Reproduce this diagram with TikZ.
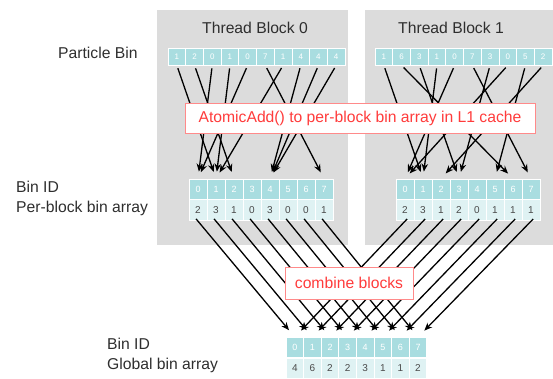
\documentclass[tikz,border=0pt]{standalone}
\usepackage{fontspec}
\setmainfont{Liberation Sans}
\usetikzlibrary{arrows.meta, positioning}
\definecolor{BlockGray}{HTML}{DCDCDC}
\definecolor{BinTeal}{HTML}{A9DDE0}
\definecolor{BinPale}{HTML}{DFF2F3}
\definecolor{Ink}{HTML}{2E2E2E}
\definecolor{Black70}{HTML}{4A4A4A}
\definecolor{AlertRed}{HTML}{FF3B3B}
\definecolor{AlertPink}{HTML}{FF8A8A}
\tikzset{
  partcell/.style={rectangle, draw=white, fill=BinTeal, line width=0.8pt,
                   minimum width=17.7pt, minimum height=17pt, inner sep=0pt,
                   text=white, font=\fontsize{8}{8}\selectfont},
  idcell/.style={rectangle, draw=white, fill=BinTeal, line width=0.8pt,
                 minimum width=#1, minimum height=20pt, inner sep=0pt,
                 text=white, font=\fontsize{9}{9}\selectfont},
  countcell/.style={rectangle, draw=white, fill=BinPale, line width=0.8pt,
                    minimum width=#1, minimum height=21pt, inner sep=0pt,
                    text=Black70, font=\fontsize{10}{10}\selectfont},
  callout/.style={rectangle, draw=AlertPink, fill=white, line width=0.9pt,
                  inner sep=0pt, text=AlertRed, font=\fontsize{15.7}{16}\selectfont},
}

\begin{document}
\begin{tikzpicture}[x=1pt, y=-1pt,
        lbl/.style={font=\fontsize{15.7}{16}\selectfont, text=Ink, inner sep=0pt},
        arr/.style={-{Stealth[length=8pt, width=6.5pt]}, line width=1.3pt, color=black},
        node distance=0pt
      ]
        \useasboundingbox (0,0) rectangle (553,378);
        % thread blocks
        \fill[BlockGray] (157,10) rectangle (348,245);
        \fill[BlockGray] (365,10) rectangle (553,245);
        \node[lbl] (tb0) at (255,28) {Thread Block 0};
        \node[lbl] (tb1) at (451,28) {Thread Block 1};
        % row labels
        \node[lbl, anchor=west] (partlbl) at (58,53) {Particle Bin};
        \node[lbl, anchor=west] (idlbl) at (16,187) {Bin ID};
        \node[lbl, below=8pt of idlbl.south west, anchor=north west] (perlbl) {Per-block bin array};
        \node[lbl, anchor=west] (gidlbl) at (107,344) {Bin ID};
        \node[lbl, below=8pt of gidlbl.south west, anchor=north west] (glbl) {Global bin array};
        % particle bins
        \foreach \v [count=\i from 0] in {1,2,0,1,0,7,1,4,4,4}
          \node[partcell] (pa\i) at ({168+17.7*(\i+0.5)},56.5) {\v};
        \foreach \v [count=\i from 0] in {1,6,3,1,0,7,3,0,5,2}
          \node[partcell] (pb\i) at ({375+17.7*(\i+0.5)},56.5) {\v};
        % per-block bin arrays
        \foreach \v [count=\j from 0] in {2,3,1,0,3,0,0,1} {
          \node[idcell=18pt] (ha\j) at ({189+18*(\j+0.5)},189) {\j};
          \node[countcell=18pt, below=of ha\j] (ca\j) {\v};
        }
        \foreach \v [count=\j from 0] in {2,3,1,2,0,1,1,1} {
          \node[idcell=18pt] (hb\j) at ({396+18*(\j+0.5)},189) {\j};
          \node[countcell=18pt, below=of hb\j] (cb\j) {\v};
        }
        % global bin array
        \foreach \v [count=\j from 0] in {4,6,2,2,3,1,1,2} {
          \node[idcell=17.6pt] (gh\j) at ({286+17.6*(\j+0.5)},347.5) {\j};
          \node[countcell=17.6pt, minimum height=20pt, below=of gh\j] (gc\j) {\v};
        }
        % atomic adds
        \foreach \v [count=\i from 0] in {1,2,0,1,0,7,1,4,4,4}
          \draw[arr, shorten <=3pt, shorten >=7pt] (pa\i.south) -- (ha\v.north);
        \foreach \v [count=\i from 0] in {1,6,3,1,0,7,3,0,5,2}
          \draw[arr, shorten <=3pt, shorten >=7pt] (pb\i.south) -- (hb\v.north);
        % combine
        \foreach \j in {0,...,7} {
          \draw[arr, shorten <=-3pt, shorten >=9pt] (ca\j.south) -- (gh\j.north);
          \draw[arr, shorten <=-3pt, shorten >=9pt] (cb\j.south) -- (gh\j.north);
        }
        \node[callout, minimum width=350pt, minimum height=30pt] (atomic) at (360,118)
          {AtomicAdd() to per-block bin array in L1 cache};
        \node[callout, minimum width=128pt, minimum height=32pt] (combine) at (349,283)
          {combine blocks};
      \end{tikzpicture}
\end{document}
